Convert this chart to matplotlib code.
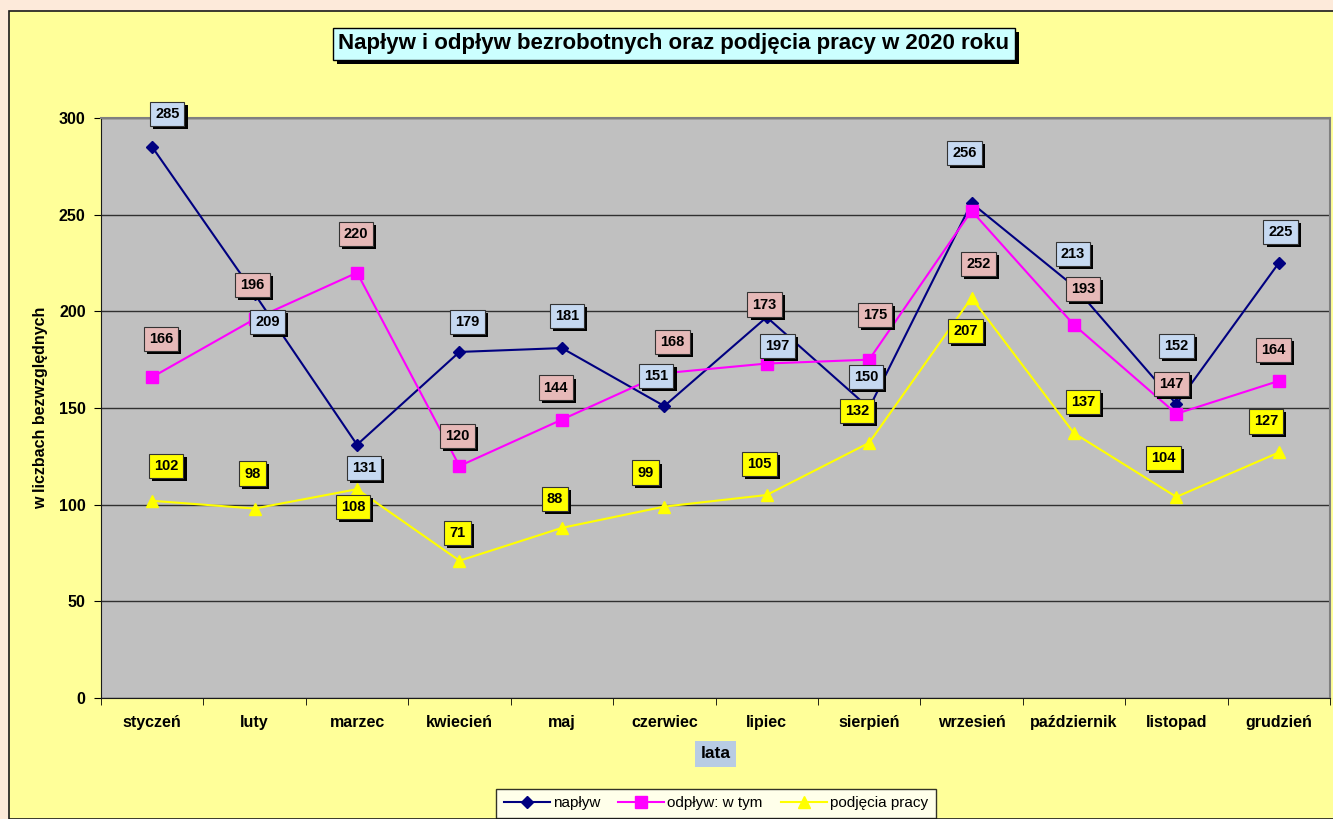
import matplotlib
matplotlib.use("Agg")
import matplotlib.pyplot as plt
import matplotlib.patheffects as pe
from matplotlib.patches import Rectangle

plt.rcParams["font.family"] = ["Liberation Sans", "DejaVu Sans"]

months = ["styczeń", "luty", "marzec", "kwiecień", "maj", "czerwiec",
          "lipiec", "sierpień", "wrzesień", "październik", "listopad", "grudzień"]
naplyw = [285, 209, 131, 179, 181, 151, 197, 150, 256, 213, 152, 225]
odplyw = [166, 196, 220, 120, 144, 168, 173, 175, 252, 193, 147, 164]
podjecia = [102, 98, 108, 71, 88, 99, 105, 132, 207, 137, 104, 127]

# label offsets in pixels (dx, dy up)
off_nap = [(15, 33), (13, -28), (7, -23), (8, 30), (5, 32), (-8, 30),
           (11, -29), (-3, 31), (-7, 50), (-1, 32), (0, 58), (2, 31)]
off_odp = [(9, 38), (-2, 34), (-1, 39), (-2, 30), (-6, 32), (8, 31),
           (-2, 59), (6, 45), (7, -53), (9, 36), (-5, 30), (-5, 31)]
off_pod = [(14, 35), (-2, 35), (-4, -18), (-2, 28), (-7, 29), (-19, 34),
           (-7, 31), (-12, 32), (-6, -33), (9, 31), (-13, 39), (-13, 31)]

W, H = 1333, 819
fig = plt.figure(figsize=(W / 100, H / 100), dpi=100)
fig.patch.set_facecolor("#FDEADA")

# yellow chart area
fig.patches.append(Rectangle((9 / W, 0), 1, 1 - 11 / H, transform=fig.transFigure,
                             facecolor="#FFFF99", edgecolor="#1a1a1a", linewidth=1.2,
                             zorder=-5))

x = list(range(len(months)))
ax = fig.add_axes([101 / W, (H - 698) / H, 1229 / W, 580 / H])
ax.set_zorder(2)
ax.set_facecolor("#C0C0C0")

ax.plot(x, naplyw, color="#000080", lw=1.5, marker="D", ms=6, label="napływ", zorder=3)
ax.plot(x, odplyw, color="#FF00FF", lw=1.5, marker="s", ms=8, label="odpływ: w tym", zorder=3)
ax.plot(x, podjecia, color="#FFFF00", lw=1.5, marker="^", ms=9, label="podjęcia pracy", zorder=3)

ax.set_xlim(-0.5, len(months) - 0.5)
ax.set_ylim(0, 300)
ax.set_yticks(range(0, 301, 50))
ax.yaxis.grid(True, color="#303030", lw=1)
ax.set_axisbelow(True)
ax.set_xticks(x)
ax.set_xticklabels(months, fontsize=11.5, fontweight="bold")
ax.set_xticks([i - 0.5 for i in range(len(months) + 1)], minor=True)
ax.tick_params(axis="x", which="major", length=0, pad=12)
ax.tick_params(axis="x", which="minor", length=5, direction="out")
ax.tick_params(axis="y", length=5, direction="out", pad=6)
for lab in ax.get_yticklabels():
    lab.set_fontsize(11.5)
    lab.set_fontweight("bold")
for s in ["top", "right"]:
    ax.spines[s].set_color("#808080")
    ax.spines[s].set_linewidth(1.5)
for s in ["left", "bottom"]:
    ax.spines[s].set_color("#1a1a1a")

ax.set_xlabel("lata", fontsize=12.5, fontweight="bold", labelpad=12,
              bbox=dict(boxstyle="square,pad=0.3", fc="#B8CCE4", ec="none"))
ax.set_ylabel("w liczbach bezwzględnych", fontsize=11.5, fontweight="bold", labelpad=8)

# drop shadow for the boxes (3 px right/down)
shadow = [pe.SimplePatchShadow(offset=(2.2, -2.2), shadow_rgbFace="black", alpha=1),
          pe.Normal()]


def label(vals, offs, fc):
    for xi, v, (dx, dy) in zip(x, vals, offs):
        t = ax.annotate(str(v), (xi, v), xytext=(dx, dy), textcoords="offset pixels",
                        ha="center", va="center", fontsize=10.5, fontweight="bold",
                        color="black", zorder=6,
                        bbox=dict(boxstyle="square,pad=0.35", fc=fc, ec="#333333", lw=0.8))
        t.get_bbox_patch().set_path_effects(shadow)


label(naplyw, off_nap, "#C6D9F1")
label(odplyw, off_odp, "#E6B9B8")
label(podjecia, off_pod, "#FFFF00")

title = "Napływ i odpływ bezrobotnych oraz podjęcia pracy w 2020 roku"
tt = fig.text(674 / W, 1 - 44 / H, title, ha="center", va="center", fontsize=16,
              fontweight="bold",
              bbox=dict(boxstyle="square,pad=0.25", fc="#CCFFFF", ec="black", lw=1))
tt.get_bbox_patch().set_path_effects(
    [pe.SimplePatchShadow(offset=(3, -3), shadow_rgbFace="black", alpha=1), pe.Normal()])

leg = fig.legend(loc="upper center", bbox_to_anchor=(716 / W, 1 - 781 / H), ncol=3,
                 fontsize=11, frameon=True, fancybox=False, edgecolor="black",
                 handlelength=3, columnspacing=1.2, handletextpad=0.2, borderpad=0.5)
leg.get_frame().set_linewidth(1)

fig.savefig("out.png", dpi=100, facecolor=fig.get_facecolor())
